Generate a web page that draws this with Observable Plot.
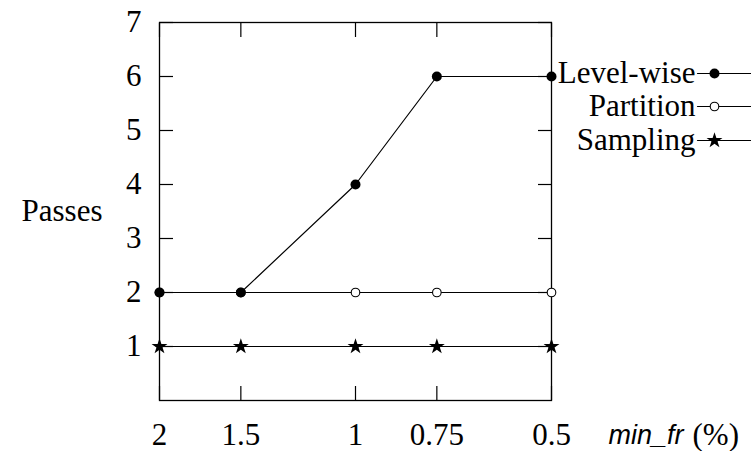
<!DOCTYPE html>
<html><head><meta charset="utf-8">
<script src="https://cdn.jsdelivr.net/npm/d3@7"></script>
<script src="https://cdn.jsdelivr.net/npm/@observablehq/plot@0.6"></script>
<style>body{margin:0;background:#fff}</style>
</head><body><div id="chart"></div>
<script>
const minFr = [2, 1.5, 1, 0.75, 0.5];
const xTickLabels = ["2", "1.5", "1", "0.75", "0.5"];
const levelWise = [2, 2, 4, 6, 6];
const partition = [2, 2, 2, 2, 2];
const sampling = [1, 1, 1, 1, 1];
const yTicks = [1, 2, 3, 4, 5, 6, 7];
const seriesNames = ["Level-wise", "Partition", "Sampling"];

const rows = (vals, name) => minFr.map((x, i) => ({x, y: vals[i], series: name}));
const lw = rows(levelWise, seriesNames[0]);
const pa = rows(partition, seriesNames[1]);
const sa = rows(sampling, seriesNames[2]);
const all = [...lw, ...pa, ...sa];

const serif = "'Liberation Serif', 'Times New Roman', serif";
const FS = 31;
const spike = {draw(ctx, l) { ctx.moveTo(0, 0); ctx.lineTo(0, -l); }};
const legendDy = [51, 84, 118];
const starR = 5;

const chart = Plot.plot({
  width: 751, height: 451,
  marginLeft: 159, marginRight: 200, marginTop: 22, marginBottom: 51,
  style: {fontFamily: serif, fontSize: FS + "px", background: "#fff", color: "black"},
  x: {type: "log", domain: [2, 0.5]},
  y: {domain: [0, 7]},
  marks: [
    Plot.axisX({anchor: "bottom", ticks: minFr, tickSize: -14, tickFormat: () => "", label: null, strokeWidth: 1.2}),
    Plot.axisX({anchor: "top", ticks: minFr, tickSize: -14, tickFormat: () => "", label: null, strokeWidth: 1.2}),
    Plot.axisY({anchor: "left", ticks: yTicks, tickSize: -14, tickFormat: () => "", label: null, strokeWidth: 1.2}),
    Plot.axisY({anchor: "right", ticks: yTicks, tickSize: -14, tickFormat: () => "", label: null, strokeWidth: 1.2}),
    Plot.frame({stroke: "black", strokeWidth: 1.3}),
    Plot.text(minFr, {x: d => d, frameAnchor: "bottom", dy: 35, text: (d, i) => xTickLabels[i], fontSize: FS, lineAnchor: "middle"}),
    Plot.text(yTicks, {y: d => d, frameAnchor: "left", dx: -18, textAnchor: "end", text: d => String(d), fontSize: FS, lineAnchor: "middle"}),
    Plot.text(["Passes"], {frameAnchor: "left", dx: -57, textAnchor: "end", fontSize: FS, lineAnchor: "middle"}),
    Plot.text(["min_fr"], {frameAnchor: "bottom-right", dx: 57, dy: 35, textAnchor: "start", fontSize: 27, fontStyle: "italic", fontFamily: "'Liberation Sans', sans-serif", lineAnchor: "middle"}),
    Plot.text(["(%)"], {frameAnchor: "bottom-right", dx: 141, dy: 35, textAnchor: "start", fontSize: FS, lineAnchor: "middle"}),
    Plot.line(all, {x: "x", y: "y", z: "series", stroke: "black", strokeWidth: 1.2}),
    Plot.dot(pa, {x: "x", y: "y", r: 4.3, fill: "white", stroke: "black", strokeWidth: 1.1}),
    Plot.dot(lw, {x: "x", y: "y", r: 5, fill: "black"}),
    Plot.dot(sa, {x: "x", y: "y", r: starR, symbol: "star", fill: "black"}),
    // legend
    ...seriesNames.map((name, i) => Plot.text([name], {frameAnchor: "top-right", dx: 144, dy: legendDy[i], textAnchor: "end", fontSize: FS, lineAnchor: "middle"})),
    ...seriesNames.map((name, i) => Plot.vector([name], {frameAnchor: "top-right", dx: 146, dy: legendDy[i], length: 54, rotate: 90, anchor: "start", shape: spike, stroke: "black", strokeWidth: 1.2})),
    Plot.dot([seriesNames[0]], {frameAnchor: "top-right", dx: 163, dy: legendDy[0], r: 5, fill: "black"}),
    Plot.dot([seriesNames[1]], {frameAnchor: "top-right", dx: 163, dy: legendDy[1], r: 4.3, fill: "white", stroke: "black", strokeWidth: 1.1}),
    Plot.dot([seriesNames[2]], {frameAnchor: "top-right", dx: 163, dy: legendDy[2], r: starR, symbol: "star", fill: "black"})
  ]
});
document.getElementById("chart").appendChild(chart);
</script>
</body></html>
